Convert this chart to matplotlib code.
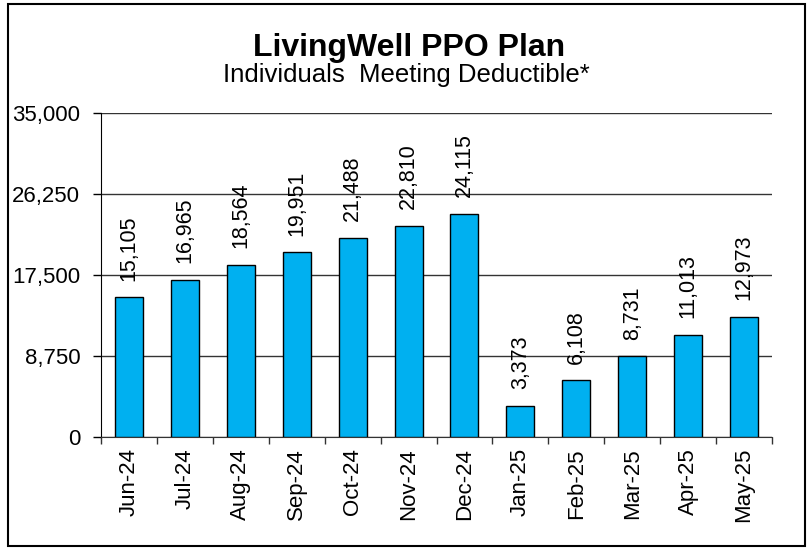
import matplotlib
matplotlib.use("Agg")
import matplotlib.pyplot as plt
from matplotlib.patches import Rectangle
from matplotlib.ticker import FuncFormatter, FixedLocator

plt.rcParams['font.family'] = ['Liberation Sans', 'DejaVu Sans']

months = ["Jun-24", "Jul-24", "Aug-24", "Sep-24", "Oct-24", "Nov-24",
          "Dec-24", "Jan-25", "Feb-25", "Mar-25", "Apr-25", "May-25"]
values = [15105, 16965, 18564, 19951, 21488, 22810, 24115,
          3373, 6108, 8731, 11013, 12973]
yticks = [0, 8750, 17500, 26250, 35000]
title = "LivingWell PPO Plan"
subtitle = "Individuals  Meeting Deductible*"

W, H = 808, 548
fig = plt.figure(figsize=(W / 100, H / 100), dpi=100)
ax = fig.add_axes([101 / W, 1 - 437 / H, (772 - 101) / W, (437 - 113) / H])

x = list(range(len(months)))
ax.bar(x, values, width=0.5, color="#00B0F0", edgecolor="black", linewidth=1.0, zorder=3)

for xi, v in zip(x, values):
    ax.annotate(f"{v:,}", (xi, v), xytext=(0, 12), textcoords="offset points",
                rotation=90, ha="center", va="bottom", fontsize=15.5, zorder=4)

ax.set_xlim(-0.5, len(months) - 0.5)
ax.set_ylim(0, 35000)
ax.set_yticks(yticks)
ax.yaxis.set_major_formatter(FuncFormatter(lambda v, p: f"{int(v):,}"))
ax.yaxis.grid(True, color="#333333", linewidth=1.0, zorder=0)
ax.tick_params(axis="y", length=6, width=1, pad=9, labelsize=16)

ax.set_xticks(x)
ax.set_xticklabels(months, rotation=90, fontsize=16)
ax.tick_params(axis="x", which="major", length=0, pad=8)
ax.xaxis.set_minor_locator(FixedLocator([i - 0.5 for i in range(len(months) + 1)]))
ax.tick_params(axis="x", which="minor", length=5, width=1, color="#333333")

for s in ["top", "right"]:
    ax.spines[s].set_visible(False)
ax.spines["left"].set_color("black")
ax.spines["bottom"].set_color("#333333")

fig.text(0.506, 1 - 56 / H, title, ha="center", va="baseline", fontsize=23, fontweight="bold")
fig.text(0.503, 1 - 82 / H, subtitle, ha="center", va="baseline", fontsize=18.5)

fig.patches.append(Rectangle((8 / W, 2 / H), (805 - 8) / W, (546 - 4) / H,
                             transform=fig.transFigure, fill=False,
                             edgecolor="black", linewidth=1.5))

fig.savefig("out.png", dpi=100)
